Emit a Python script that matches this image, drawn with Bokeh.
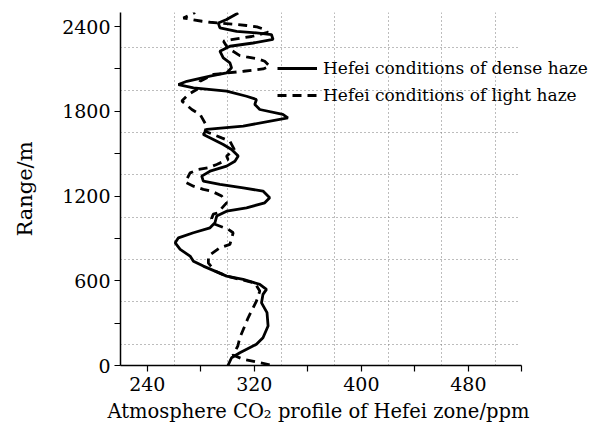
from bokeh.plotting import figure
from bokeh.models import FixedTicker, Legend, LegendItem, Range1d, Title
from bokeh.embed import file_html
from bokeh.resources import INLINE

# Hefei conditions of dense haze (solid)
dense_co2 = [300.3, 303.0, 309.2, 321.6, 326.5, 330.3, 329.5, 325.4, 326.5, 329.1,
             324.1, 311.7, 299.3, 281.9, 274.5, 272.0, 264.6, 260.9, 263.3, 274.5,
             286.9, 290.6, 291.9, 299.3, 314.2, 327.8, 331.5, 326.5, 311.7, 294.3,
             281.9, 280.7, 286.9, 299.3, 305.5, 308.0, 303.0, 296.8, 289.4, 281.9,
             284.5, 311.7, 345.1, 341.3, 324.1, 320.4, 321.6, 314.2, 299.3, 274.5,
             263.3, 269.6, 286.9, 299.3, 303.0, 301.8, 296.8, 294.3, 301.8, 319.1,
             334.0, 332.8, 321.6, 306.8, 294.3, 293.1, 299.3, 308.0]
dense_range = [0, 55, 90, 150, 197, 280, 374, 444, 504, 539,
               575, 610, 633, 704, 739, 775, 822, 869, 904, 940,
               975, 1011, 1058, 1093, 1117, 1152, 1188, 1235, 1258, 1282,
               1306, 1341, 1376, 1412, 1447, 1483, 1530, 1565, 1601, 1636,
               1672, 1695, 1754, 1778, 1813, 1849, 1884, 1907, 1943, 1966,
               1990, 2013, 2049, 2072, 2108, 2143, 2178, 2226, 2261, 2284,
               2309, 2344, 2355, 2367, 2391, 2426, 2450, 2497]

# Hefei conditions of light haze (dashed)
light_co2 = [331.5, 311.7, 304.0, 307.7, 309.2, 315.4, 321.6, 324.1, 320.4, 309.2,
             299.3, 290.6, 285.7, 285.7, 294.3, 301.8, 304.2, 300.4, 290.6, 288.0,
             289.4, 292.6, 299.3, 295.6, 288.1, 281.9, 274.5, 268.4, 272.0, 278.2,
             285.7, 291.9, 300.4, 299.3, 305.0, 301.8, 295.6, 283.2, 284.5, 279.5,
             273.3, 265.8, 270.7, 277.0, 279.5, 289.4, 312.0, 318.0, 326.5, 331.5,
             327.8, 322.8, 314.2, 309.2, 300.0, 297.0, 303.0, 318.0, 330.0, 328.0,
             322.0, 314.0, 307.0, 287.0, 281.0, 267.0, 275.8]
light_range = [5, 44, 74, 138, 197, 338, 456, 527, 584, 610,
               633, 669, 725, 775, 834, 858, 940, 965, 1000, 1040,
               1072, 1081, 1152, 1200, 1235, 1247, 1270, 1299, 1364, 1388,
               1400, 1424, 1459, 1483, 1530, 1589, 1612, 1659, 1695, 1778,
               1813, 1874, 1919, 1955, 2013, 2061, 2084, 2091, 2100, 2120,
               2155, 2171, 2185, 2195, 2250, 2297, 2308, 2330, 2360, 2379,
               2398, 2408, 2415, 2431, 2438, 2461, 2500]

x_major = [240, 320, 400, 480]
x_minor = [280, 360, 440, 520]
y_major = [0, 600, 1200, 1800, 2400]
y_minor = [300, 900, 1500, 2100]
x_grid = [260, 300, 340, 380, 420, 460, 500]
y_grid = [150, 450, 750, 1050, 1350, 1650, 1950, 2250]

FONT = "DejaVu Serif"

p = figure(width=599, height=434, output_backend="svg", toolbar_location=None,
           x_range=Range1d(220, 578), y_range=Range1d(0, 2500),
           min_border_left=120, min_border_right=0, min_border_top=12,
           min_border_bottom=69)
p.outline_line_color = None
p.background_fill_color = "white"

for ax, maj, mnr in ((p.xaxis[0], x_major, x_minor), (p.yaxis[0], y_major, y_minor)):
    ax.ticker = FixedTicker(ticks=maj, minor_ticks=mnr)
    ax.axis_line_width = 1.5
    ax.axis_line_color = "black"
    ax.major_tick_in = 0
    ax.minor_tick_in = 0
    ax.major_tick_out = 6
    ax.minor_tick_out = 6
    ax.major_tick_line_width = 1.2
    ax.minor_tick_line_width = 1.2
    ax.major_label_text_font = FONT
    ax.major_label_text_font_size = "19px"
    ax.major_label_text_color = "black"
    ax.axis_label_text_font = FONT
    ax.axis_label_text_font_style = "normal"
    ax.axis_label_text_color = "black"

p.xaxis.bounds = (220, 520)
p.xaxis.major_label_standoff = 5
p.yaxis.axis_label = "Range/m"
p.yaxis.axis_label_text_font_size = "21px"
p.yaxis.major_label_standoff = 4
p.yaxis.axis_label_standoff = 22

xlabel = Title(text="Atmosphere CO\u2082 profile of Hefei zone/ppm", align="left",
               offset=-13, standoff=8, text_font=FONT, text_font_size="19.5px",
               text_font_style="normal", text_color="black")
p.add_layout(xlabel, "below")

p.xgrid.ticker = FixedTicker(ticks=x_grid)
p.ygrid.ticker = FixedTicker(ticks=y_grid)
p.ygrid.cross_bounds = (220, 518)
for g in (p.xgrid[0], p.ygrid[0]):
    g.grid_line_color = "#7a7a7a"
    g.grid_line_dash = "1 3"
    g.grid_line_width = 1

r_dense = p.line(dense_co2, dense_range, line_color="black", line_width=2.8)
r_light = p.line(light_co2, light_range, line_color="black", line_width=2.8,
                 line_dash="9 6")

legend = Legend(items=[LegendItem(label="Hefei conditions of dense haze", renderers=[r_dense]),
                       LegendItem(label="Hefei conditions of light haze", renderers=[r_light])],
                location=(157, 260), orientation="vertical",
                glyph_width=40, glyph_height=20, label_height=20,
                label_standoff=6, spacing=7, padding=0, margin=0,
                border_line_alpha=0, background_fill_alpha=0,
                label_text_font=FONT, label_text_font_size="17px",
                label_text_color="black")
p.add_layout(legend, "center")

open("out.html", "w").write(file_html(p, INLINE))
